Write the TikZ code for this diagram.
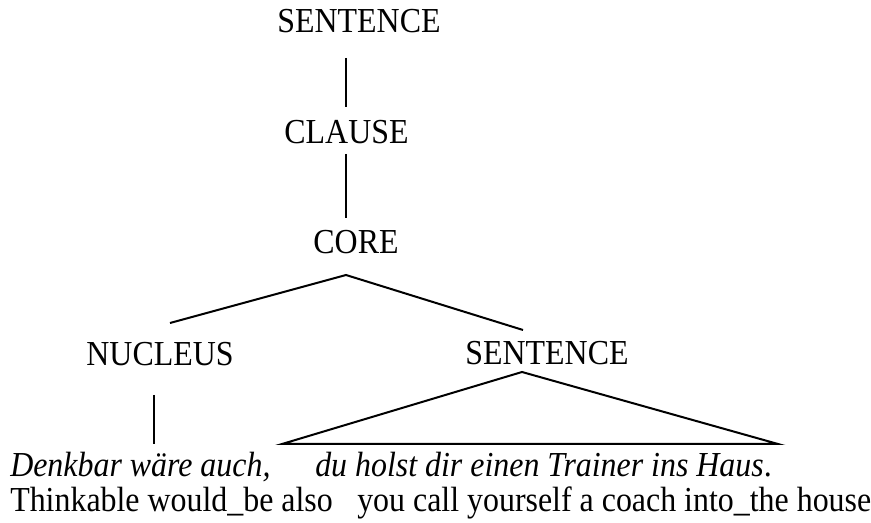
\documentclass[tikz,border=0pt]{standalone}
\usepackage{fontspec}
\setmainfont{Liberation Serif}[FakeStretch=0.91]
\begin{document}
\begin{tikzpicture}[x=0.75pt,y=-0.75pt,
  lbl/.style={anchor=base,inner sep=0pt,font=\fontsize{26.3}{30}\selectfont},
  txt/.style={anchor=base west,inner sep=0pt,font=\fontsize{26.3}{30}\selectfont},
  branch/.style={line width=1.5pt,line join=miter}]
\useasboundingbox (0,0) rectangle (871,523);

% category labels
\node[lbl] (sent)   at (359,33)  {SENTENCE};
\node[lbl] (clause) at (346.5,144) {CLAUSE};
\node[lbl] (core)   at (356,254) {CORE};
\node[lbl] (nuc)    at (160,366) {NUCLEUS};
\node[lbl] (sub)    at (547,365) {SENTENCE};

% words and gloss
\node[txt] (w1) at (10,477)  {\itshape Denkbar wäre auch,};
\node[txt] (w2) at (315,477) {\itshape du holst dir einen Trainer ins Haus\upshape .};
\node[txt] (g1) at (10,512)  {Thinkable would\_be also};
\node[txt] (g2) at (357,512) {you call yourself a coach into\_the house};

% branch end points
\coordinate (sent-b)   at (346,58);
\coordinate (clause-t) at (346,107);
\coordinate (clause-b) at (346,154);
\coordinate (core-t)   at (346,218);
\coordinate (core-b)   at (346,275);
\coordinate (nuc-t)    at (170,323);
\coordinate (sub-t)    at (523,330);
\coordinate (nuc-b)    at (154,395);
\coordinate (w1-t)     at (154,444);
\coordinate (sub-b)    at (522,372);
\coordinate (tri-l)    at (282,444);
\coordinate (tri-r)    at (778,444);

% tree branches
\draw[branch] (sent-b) -- (clause-t);
\draw[branch] (clause-b) -- (core-t);
\draw[branch] (nuc-t) -- (core-b) -- (sub-t);
\draw[branch] (nuc-b) -- (w1-t);
\draw[branch] (tri-l) -- (sub-b) -- (tri-r) -- cycle;
\end{tikzpicture}
\end{document}
